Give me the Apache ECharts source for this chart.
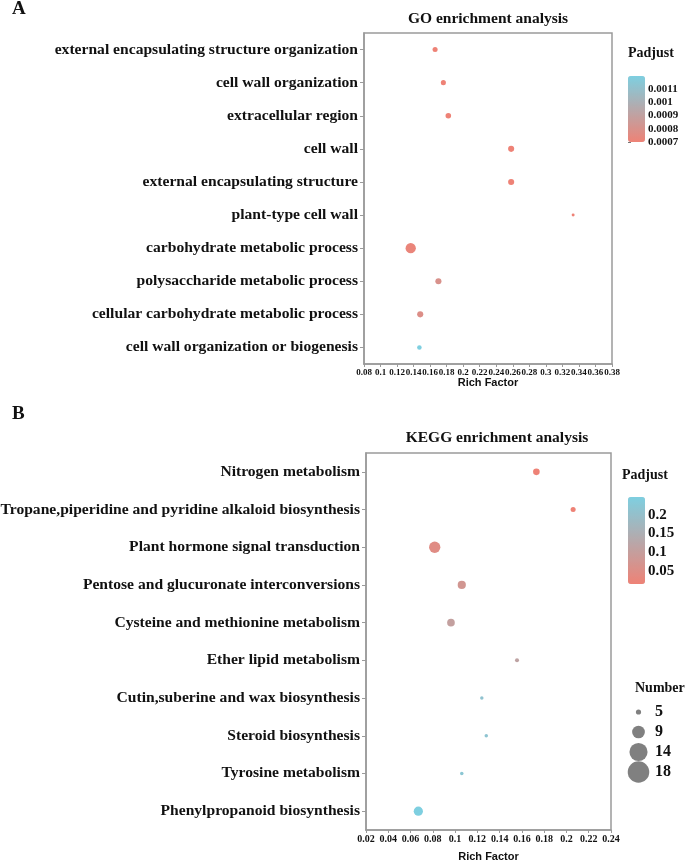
<!DOCTYPE html>
<html>
<head>
<meta charset="utf-8">
<script src="https://cdn.jsdelivr.net/npm/echarts@6/dist/echarts.min.js"></script>
<style>
html,body{margin:0;padding:0;background:#fff;}
#c{width:685px;height:861px;}
</style>
</head>
<body>
<div id="c"></div>
<script>
// ---------- data ----------
const goTerms = [
  'external encapsulating structure organization',
  'cell wall organization',
  'extracellular region',
  'cell wall',
  'external encapsulating structure',
  'plant-type cell wall',
  'carbohydrate metabolic process',
  'polysaccharide metabolic process',
  'cellular carbohydrate metabolic process',
  'cell wall organization or biogenesis'
];
const goRich  = [0.166, 0.176, 0.182, 0.258, 0.258, 0.333, 0.1365, 0.170, 0.148, 0.147];
const goPadj  = [0.0007, 0.0007, 0.0007, 0.0007, 0.0007, 0.0007, 0.00072, 0.0008, 0.00078, 0.0012];
const goCount = [6, 6, 7, 8, 8, 2, 16, 8, 8, 5];
const goPadjRange = [0.0007, 0.0012];
const goRichTicks = [0.08, 0.38, 0.02];   // min, max, interval
const goPadjTickStep = 0.0001;

const keggTerms = [
  'Nitrogen metabolism',
  'Tropane,piperidine and pyridine alkaloid biosynthesis',
  'Plant hormone signal transduction',
  'Pentose and glucuronate interconversions',
  'Cysteine and methionine metabolism',
  'Ether lipid metabolism',
  'Cutin,suberine and wax biosynthesis',
  'Steroid biosynthesis',
  'Tyrosine metabolism',
  'Phenylpropanoid biosynthesis'
];
const keggRich  = [0.173, 0.206, 0.0817, 0.106, 0.0963, 0.1556, 0.124, 0.128, 0.106, 0.067];
const keggPadj  = [0.016, 0.015, 0.045, 0.075, 0.105, 0.115, 0.21, 0.215, 0.22, 0.248];
const keggCount = [9, 6, 18, 12, 11, 4, 3, 3, 3, 14];
const keggPadjRange = [0.015, 0.248];
const keggRichTicks = [0.02, 0.24, 0.02];
const keggPadjAxis = [0, 0.25, 0.05];
const numberLegend = [5, 9, 14, 18];

// ---------- helpers ----------
const LOW = '#EE8276', HIGH = '#7ECFE0';
const serif = 'Liberation Serif';
const axisGrey = '#9a9a9a';
const dataSize = n => 3.5 + (n - 3) * 0.52;
const legendSize = n => 5.8 * Math.sqrt(n - 4.2);

const goData = goTerms.map((t, i) => [goRich[i], t, goPadj[i], goCount[i]]);
const keggData = keggTerms.map((t, i) => [keggRich[i], t, keggPadj[i], keggCount[i]]);

function catAxis(gridIndex, data) {
  return {
    type: 'category', gridIndex, data, inverse: true,
    axisLine: {show: true, lineStyle: {color: axisGrey, width: 1.5}},
    axisTick: {show: true, alignWithLabel: true, length: 4, lineStyle: {color: axisGrey}},
    axisLabel: {color: '#111', fontFamily: serif, fontWeight: 'bold', fontSize: 15.6, margin: 6, interval: 0},
    splitLine: {show: false}
  };
}
function valAxis(gridIndex, t, fs, nameGap) {
  return {
    type: 'value', gridIndex, min: t[0], max: t[1], interval: t[2],
    name: 'Rich Factor', nameLocation: 'middle', nameGap,
    nameTextStyle: {fontFamily: 'Liberation Sans', fontWeight: 'bold', fontSize: 11, color: '#111'},
    axisLine: {show: true, lineStyle: {color: axisGrey, width: 1.5}},
    axisTick: {show: true, length: 3, lineStyle: {color: axisGrey}},
    axisLabel: {color: '#111', fontFamily: serif, fontWeight: 'bold', fontSize: fs, margin: 4},
    splitLine: {show: false}
  };
}
function cbAxis(gridIndex, min, max, interval, fs, showMin, showMax) {
  return {
    type: 'value', gridIndex, min, max, interval, position: 'right',
    axisLine: {show: false},
    axisTick: {show: true, inside: false, length: 3, lineStyle: {color: '#777'}},
    axisLabel: {color: '#111', fontFamily: serif, fontWeight: 'bold', fontSize: fs, margin: 3,
      showMinLabel: showMin, showMaxLabel: showMax},
    splitLine: {show: false}
  };
}
const hiddenX = gi => ({type: 'value', gridIndex: gi, min: 0, max: 1, show: false});

const gridBase = {containLabel: false, outerBoundsMode: 'none'};
const option = {
  animation: false,
  backgroundColor: '#fff',
  grid: [
    Object.assign({left: 364, top: 33, width: 248, height: 331, show: true, borderColor: axisGrey, borderWidth: 1.5}, gridBase),
    Object.assign({left: 366, top: 453, width: 245, height: 377, show: true, borderColor: axisGrey, borderWidth: 1.5}, gridBase),
    Object.assign({left: 628, top: 76, width: 17, height: 66}, gridBase),
    Object.assign({left: 628, top: 496, width: 17, height: 93.5}, gridBase),
    Object.assign({left: 630, top: 702, width: 17, height: 80}, gridBase)
  ],
  xAxis: [
    valAxis(0, goRichTicks, 9, 13),
    valAxis(1, keggRichTicks, 10, 21),
    hiddenX(2), hiddenX(3), hiddenX(4)
  ],
  yAxis: [
    catAxis(0, goTerms),
    catAxis(1, keggTerms),
    cbAxis(2, goPadjRange[0], goPadjRange[1], goPadjTickStep, 11, true, false),
    cbAxis(3, keggPadjAxis[0], keggPadjAxis[1], keggPadjAxis[2], 15, false, false),
    {type: 'category', gridIndex: 4, data: numberLegend.map(String), inverse: true, position: 'right',
     axisLine: {show: false}, axisTick: {show: false},
     axisLabel: {color: '#111', fontFamily: serif, fontWeight: 'bold', fontSize: 16, margin: 8, align: 'left', interval: 0}}
  ],
  visualMap: [
    {type: 'continuous', seriesIndex: 0, dimension: 2, min: goPadjRange[0], max: goPadjRange[1],
     inRange: {color: [LOW, HIGH]}, left: 628, top: 76, itemWidth: 17, itemHeight: 66,
     calculable: false, padding: 0, text: null, hoverLink: false},
    {type: 'continuous', seriesIndex: 1, dimension: 2, min: keggPadjRange[0], max: keggPadjRange[1],
     inRange: {color: [LOW, HIGH]}, left: 628, top: 497, itemWidth: 17, itemHeight: 87,
     calculable: false, padding: 0, text: null, hoverLink: false}
  ],
  series: [
    {type: 'scatter', xAxisIndex: 0, yAxisIndex: 0, data: goData,
     symbolSize: v => dataSize(v[3]), itemStyle: {opacity: 1}},
    {type: 'scatter', xAxisIndex: 1, yAxisIndex: 1, data: keggData,
     symbolSize: v => dataSize(v[3]), itemStyle: {opacity: 1}},
    {type: 'scatter', xAxisIndex: 4, yAxisIndex: 4,
     data: numberLegend.map(n => [0.5, String(n), n]),
     symbolSize: v => legendSize(v[2]), itemStyle: {color: '#808080', opacity: 1}}
  ],
  graphic: [
    {type: 'text', x: 12, y: 9, style: {text: 'A', font: 'bold 19px "Liberation Serif"', fill: '#111', verticalAlign: 'middle'}},
    {type: 'text', x: 12, y: 414, style: {text: 'B', font: 'bold 19px "Liberation Serif"', fill: '#111', verticalAlign: 'middle'}},
    {type: 'text', x: 488, y: 19, style: {text: 'GO enrichment analysis', font: 'bold 15.5px "Liberation Serif"', fill: '#111', align: 'center', verticalAlign: 'middle'}},
    {type: 'text', x: 497, y: 438, style: {text: 'KEGG enrichment analysis', font: 'bold 15.5px "Liberation Serif"', fill: '#111', align: 'center', verticalAlign: 'middle'}},
    {type: 'text', x: 628, y: 53, style: {text: 'Padjust', font: 'bold 14px "Liberation Serif"', fill: '#111', verticalAlign: 'middle'}},
    {type: 'text', x: 622, y: 475, style: {text: 'Padjust', font: 'bold 14px "Liberation Serif"', fill: '#111', verticalAlign: 'middle'}},
    {type: 'text', x: 635, y: 688, style: {text: 'Number', font: 'bold 14px "Liberation Serif"', fill: '#111', verticalAlign: 'middle'}}
  ]
};
const chart = echarts.init(document.getElementById('c'), null, {renderer: 'canvas'});
chart.setOption(option);
</script>
</body>
</html>
